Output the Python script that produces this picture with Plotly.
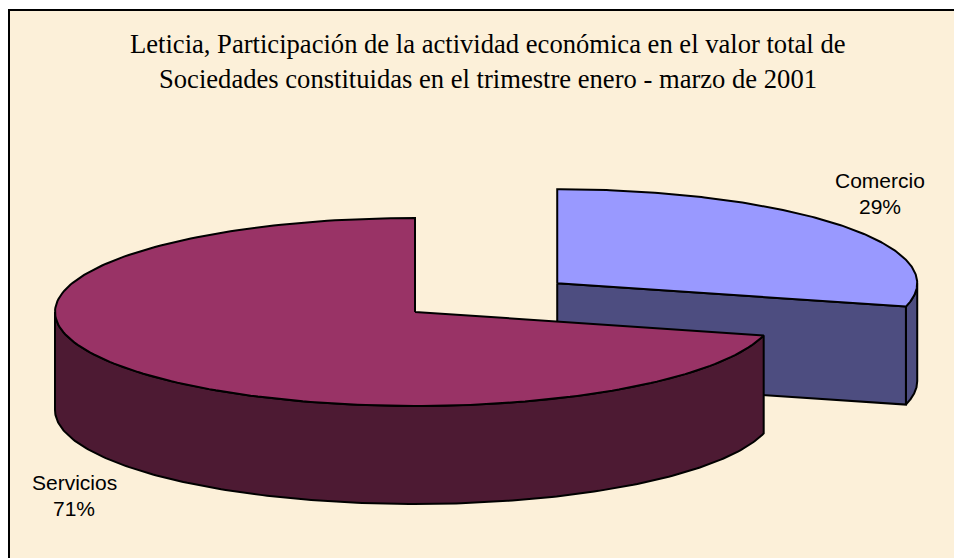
import numpy as np
import plotly.graph_objects as go

# ---- data ----
categories = ["Comercio", "Servicios"]
values = [29, 71]          # percent share
top_colors = ["#9999FF", "#993366"]
side_colors = ["#4D4D80", "#4D1A33"]
title_lines = ["Leticia, Participación de la actividad económica en el valor total de",
               "Sociedades constituidas en el trimestre enero - marzo de 2001"]

# ---- geometry (style) ----
W, H = 954, 558
CX, CY = 415.0, 312.0     # pie centre in pixel space
RX, RY = 360.0, 94.0      # ellipse radii
DEPTH = 98.0              # thickness
EXPLODE = [0.5, 0.0]      # explode fraction per slice
BG = "#FCF0D9"

total = float(sum(values))
# Slices start at 12 o'clock and run clockwise
starts, ends = [], []
a = 90.0
for v in values:
    span = 360.0 * v / total
    starts.append(a)
    ends.append(a - span)
    a -= span


def pt(cx, cy, deg, dz=0.0):
    t = np.radians(deg)
    return cx + RX * np.cos(t), cy - RY * np.sin(t) + dz


def arc(cx, cy, d0, d1, dz=0.0, n=200):
    ds = np.linspace(d0, d1, n)
    xs = cx + RX * np.cos(np.radians(ds))
    ys = cy - RY * np.sin(np.radians(ds)) + dz
    return list(xs), list(ys)


fig = go.Figure()


def poly(xs, ys, color):
    fig.add_trace(go.Scatter(x=xs + [xs[0]], y=ys + [ys[0]], mode="lines",
                             fill="toself", fillcolor=color,
                             line=dict(color="black", width=2),
                             hoverinfo="skip", showlegend=False))


slice_layers = []
for i, v in enumerate(values):
    mid = (starts[i] + ends[i]) / 2.0
    cx = CX + EXPLODE[i] * RX * np.cos(np.radians(mid))
    cy = CY - EXPLODE[i] * RY * np.sin(np.radians(mid))
    hi, lo = starts[i], ends[i]  # clockwise from hi to lo
    layers = []
    # outer side: visible part is the front half
    for base in (0.0, -360.0, 360.0):
        f0, f1 = -180.0 + base, 0.0 + base
        s0, s1 = max(lo, f0), min(hi, f1)
        if s1 - s0 > 1e-6:
            xs1, ys1 = arc(cx, cy, s0, s1)
            xs2, ys2 = arc(cx, cy, s1, s0, DEPTH)
            layers.append((xs1 + xs2, ys1 + ys2, side_colors[i]))
    # cut faces facing the viewer
    for edge, nrm in ((lo, lo - 90), (hi, hi + 90)):
        if np.sin(np.radians(nrm)) < -1e-6:
            ex, ey = pt(cx, cy, edge)
            layers.append(([cx, ex, ex, cx], [cy, ey, ey + DEPTH, cy + DEPTH], side_colors[i]))
    # top face
    xs, ys = arc(cx, cy, hi, lo)
    layers.append(([cx] + xs, [cy] + ys, top_colors[i]))
    slice_layers.append(layers)

# draw the exploded back slice first, then the front slice
for layers in slice_layers:
    for xs, ys, c in layers:
        poly(xs, ys, c)

lab_font = dict(family="Liberation Sans, Arial, sans-serif", size=21, color="black")
label_pos = [(880, 180), (74, 482)]
annotations = []
for i, name in enumerate(categories):
    x, y = label_pos[i]
    annotations.append(dict(x=x, y=y, xref="x", yref="y", text=name,
                            showarrow=False, font=lab_font))
    annotations.append(dict(x=x, y=y + 26, xref="x", yref="y", text=f"{values[i]}%",
                            showarrow=False, font=lab_font))
title_font = dict(family="Liberation Serif, Times New Roman, serif", size=26.6, color="black")
for j, line in enumerate(title_lines):
    annotations.append(dict(x=488, y=44 + 35 * j, xref="x", yref="y", text=line,
                            showarrow=False, font=title_font))

fig.update_layout(
    width=W, height=H, margin=dict(l=0, r=0, t=0, b=0),
    paper_bgcolor="white", plot_bgcolor="rgba(0,0,0,0)",
    xaxis=dict(range=[0, W], visible=False, fixedrange=True),
    yaxis=dict(range=[H, 0], visible=False, fixedrange=True),
    shapes=[dict(type="rect", xref="x", yref="y", x0=9, y0=10, x1=W + 20, y1=H + 20,
                 fillcolor=BG, line=dict(color="black", width=2), layer="below")],
    annotations=annotations,
)

fig.write_html("out.html", config={"displayModeBar": False},
               post_script="document.body.style.margin='0';document.body.style.overflow='hidden';")
